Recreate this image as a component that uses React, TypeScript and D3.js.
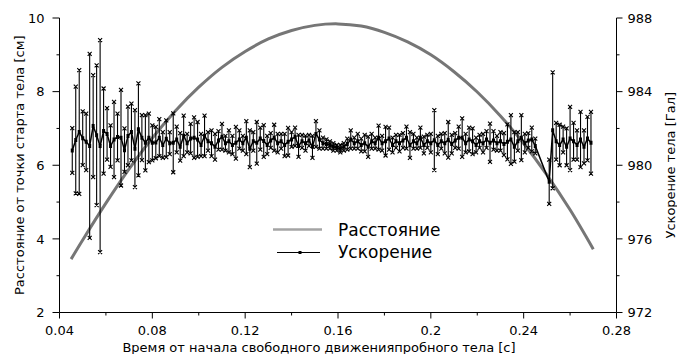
import React from 'react';
import * as d3 from 'd3';

// Distance of the falling body from its start point [cm]
const distTime = [0.045, 0.05, 0.06, 0.07, 0.08, 0.09, 0.1, 0.11, 0.12, 0.13, 0.14, 0.15, 0.16,
  0.17, 0.18, 0.19, 0.2, 0.21, 0.22, 0.23, 0.24, 0.25, 0.26, 0.27];
const distance = [3.45, 3.97, 4.97, 5.9, 6.74, 7.48, 8.12, 8.66, 9.09, 9.43, 9.66, 9.8, 9.84,
  9.78, 9.61, 9.35, 9.0, 8.54, 7.99, 7.34, 6.59, 5.74, 4.79, 3.72];

// Acceleration samples [Gal] on a uniform time grid, with their errors; null = no sample
const ACCEL_T0 = 0.0455;
const ACCEL_DT = 0.0015;
const accel: (number | null)[] = [
  980.8, 981.37, 981.81, 981.47, 981.27, 981.05, 982.13, 981.63, 981.04, 981.86,
  981.7, 981.04, 981.4, 981.54, 981.5, 980.82, 981.59, 981.81, 980.9, 981.95,
  981.5, 981.22, 981.49, 981.22, 981.23, 981.5, 981.1, 981.44, 981.2, 981.22,
  981.4, 981.0, 981.6, 981.2, 981.45, 981.5, 981.4, 981.1, 981.6, 981.3,
  981.2, 981.0, 981.35, 981.55, 981.2, 981.3, 981.1, 981.22, 981.4, 981.2,
  981.5, 980.9, 981.3, 981.22, 981.45, 981.32, 981.1, 981.35, 981.5, 981.2,
  981.3, 981.1, 981.28, 981.4, 981.55, 981.05, 981.3, 981.2, 981.35, 981.0,
  981.7, 981.4, 981.2, 981.15, 981.1, 981.0, 980.95, 980.9, 981.0, 981.15,
  981.4, 981.2, 981.3, 981.1, 981.2, 981.0, 981.3, 981.2, 981.5, 981.2,
  981.31, 981.45, 981.1, 981.3, 981.2, 981.35, 981.5, 981.1, 981.3, 981.2,
  981.5, 981.1, 981.3, 981.2, 981.36, 981.1, 981.3, 981.2, 981.38, 981.15,
  981.35, 981.5, 981.5, 981.2, 981.4, 981.3, 981.1, 981.3, 981.2, 981.4,
  981.22, 981.35, 981.2, 981.3, 981.15, 981.27, 981.4, 981.0, 981.3, 981.5,
  981.2, 981.35, 981.4, 981.05, null, null, null, 979.1, 981.9, 981.3,
  981.1, 981.4, 981.0, 981.45, 981.3, 981.1, 981.4, 981.0, 981.45, 981.22,
];
const accelErr: (number | null)[] = [
  1.22, 2.9, 3.36, 1.46, 1.54, 5.0, 2.77, 3.8, 5.76, 2.31,
  1.4, 1.13, 2.04, 1.27, 2.6, 1.18, 1.59, 1.54, 2.09, 2.5,
  1.22, 1.5, 1.32, 0.95, 0.85, 1.0, 0.7, 1.0, 0.6, 1.6,
  0.7, 0.75, 1.1, 0.5, 0.8, 1.1, 0.95, 0.6, 1.1, 0.5,
  0.7, 0.7, 0.5, 0.7, 0.4, 0.6, 0.5, 0.86, 0.5, 0.4,
  0.9, 1.0, 0.5, 1.13, 0.6, 0.86, 0.5, 0.4, 0.7, 0.5,
  0.4, 0.6, 0.75, 0.4, 0.5, 0.6, 0.35, 0.4, 0.3, 0.6,
  0.7, 0.5, 0.3, 0.25, 0.2, 0.2, 0.15, 0.2, 0.2, 0.3,
  0.5, 0.3, 0.4, 0.35, 0.45, 0.55, 0.4, 0.3, 0.65, 0.4,
  0.78, 0.6, 0.4, 0.35, 0.45, 0.4, 0.6, 0.7, 0.4, 0.3,
  0.55, 0.45, 0.35, 0.5, 1.63, 0.5, 0.4, 0.55, 0.97, 0.5,
  0.4, 0.6, 1.05, 0.5, 0.65, 0.7, 0.4, 0.35, 0.5, 0.45,
  1.04, 0.5, 0.4, 0.5, 0.6, 0.95, 1.32, 0.8, 0.5, 1.22,
  0.5, 0.4, 0.65, 0.4, null, null, null, 1.2, 3.15, 1.0,
  1.1, 0.7, 1.0, 1.72, 1.0, 0.8, 1.5, 0.9, 1.18, 1.68,
];

const xTicks = [0.04, 0.08, 0.12, 0.16, 0.2, 0.24, 0.28];
const xMinorTicks = [0.06, 0.1, 0.14, 0.18, 0.22, 0.26];
const leftTicks = [2, 4, 6, 8, 10];
const leftMinorTicks = [3, 5, 7, 9];
const rightTicks = [972, 976, 980, 984, 988];
const rightMinorTicks = [974, 978, 982, 986];

const xTitle = 'Время от начала свободного движенияпробного тела [c]';
const leftTitle = 'Расстояние от точки старта тела [см]';
const rightTitle = 'Ускорение тела [Гал]';
const legendDistance = 'Расстояние';
const legendAccel = 'Ускорение';

const W = 677;
const H = 354;
const L = 59.5;
const R = 616.5;
const T = 18;
const B = 312.5;
const FONT = '"DejaVu Sans", Arial, sans-serif';

export default function App() {
  const x = d3.scaleLinear().domain([0.04, 0.28]).range([L, R]);
  const yL = d3.scaleLinear().domain([2, 10]).range([B, T]);
  const yR = d3.scaleLinear().domain([972, 988]).range([B, T]);

  const distPts = distTime.map((t, i) => [t, distance[i]] as [number, number]);
  const distLine = d3
    .line<[number, number]>()
    .x((d) => x(d[0]))
    .y((d) => yL(d[1]))
    .curve(d3.curveCatmullRom);

  const samples = accel
    .map((v, i) => ({ t: ACCEL_T0 + i * ACCEL_DT, v, e: accelErr[i] }))
    .filter((d) => d.v != null) as { t: number; v: number; e: number }[];

  const accelLine = d3
    .line<{ t: number; v: number }>()
    .x((d) => x(d.t))
    .y((d) => yR(d.v));

  let bars = '';
  let caps = '';
  let marks = '';
  const c = 2;
  samples.forEach((d) => {
    const px = x(d.t);
    const y1 = yR(d.v + d.e);
    const y2 = yR(d.v - d.e);
    bars += `M${px},${y1}V${y2}`;
    [y1, y2].forEach((yy) => {
      caps += `M${px - c},${yy - c}L${px + c},${yy + c}M${px - c},${yy + c}L${px + c},${yy - c}`;
    });
    const py = yR(d.v);
    marks += `M${px - 1.5},${py - 2}h3v4h-3z`;
  });

  const tickText = { fontFamily: FONT, fontSize: 13, fill: '#000' } as const;

  return (
    <svg
      width={W}
      height={H}
      style={{ position: 'absolute', left: 0, top: 0, background: '#fff' }}
    >
      <rect width={W} height={H} fill="#fff" />

      {/* distance curve */}
      <path d={distLine(distPts) || ''} fill="none" stroke="#767676" strokeWidth={3} />

      {/* acceleration with error bars */}
      <path d={bars} stroke="#000" strokeWidth={1.1} fill="none" />
      <path d={caps} stroke="#000" strokeWidth={1.1} fill="none" />
      <path d={accelLine(samples) || ''} stroke="#000" strokeWidth={1.5} fill="none" />
      <path d={marks} fill="#000" />

      {/* axes */}
      <g stroke="#000" strokeWidth={1} fill="none">
        <path d={`M${L},${T}V${B}H${R}V${T}`} />
        {leftTicks.map((v) => (
          <line key={'lt' + v} x1={L - 7} x2={L} y1={yL(v)} y2={yL(v)} />
        ))}
        {leftMinorTicks.map((v) => (
          <line key={'lm' + v} x1={L - 3} x2={L} y1={yL(v)} y2={yL(v)} />
        ))}
        {rightTicks.map((v) => (
          <line key={'rt' + v} x1={R} x2={R + 6} y1={yR(v)} y2={yR(v)} />
        ))}
        {rightMinorTicks.map((v) => (
          <line key={'rm' + v} x1={R} x2={R + 3} y1={yR(v)} y2={yR(v)} />
        ))}
        {xTicks.map((v) => (
          <line key={'xt' + v} x1={x(v)} x2={x(v)} y1={B} y2={B + 6} />
        ))}
        {xMinorTicks.map((v) => (
          <line key={'xm' + v} x1={x(v)} x2={x(v)} y1={B} y2={B + 3} />
        ))}
      </g>

      {leftTicks.map((v) => (
        <text key={'ll' + v} x={L - 15} y={yL(v)} dy="0.36em" textAnchor="end" {...tickText}>
          {String(v)}
        </text>
      ))}
      {rightTicks.map((v) => (
        <text key={'rl' + v} x={R + 11} y={yR(v)} dy="0.36em" textAnchor="start" {...tickText}>
          {String(v)}
        </text>
      ))}
      {xTicks.map((v) => (
        <text key={'xl' + v} x={x(v)} y={335} textAnchor="middle" {...tickText}>
          {String(v)}
        </text>
      ))}

      {/* axis titles */}
      <text x={319} y={351.5} textAnchor="middle" {...tickText}>
        {xTitle}
      </text>
      <text
        transform={`translate(24,${(T + B) / 2}) rotate(-90)`}
        textAnchor="middle"
        {...tickText}
      >
        {leftTitle}
      </text>
      <text
        transform={`translate(675,${(T + B) / 2}) rotate(-90)`}
        textAnchor="middle"
        {...tickText}
      >
        {rightTitle}
      </text>

      {/* legend */}
      <line x1={273} x2={322} y1={229.5} y2={229.5} stroke="#a4a4a4" strokeWidth={2.7} />
      <text x={338} y={235.5} fontFamily={FONT} fontSize={17} fill="#000">
        {legendDistance}
      </text>
      <line x1={277} x2={320} y1={252.5} y2={252.5} stroke="#000" strokeWidth={1} />
      <rect x={298.5} y={251} width={3} height={3} fill="#000" />
      <text x={338} y={258} fontFamily={FONT} fontSize={17} fill="#000">
        {legendAccel}
      </text>
    </svg>
  );
}
